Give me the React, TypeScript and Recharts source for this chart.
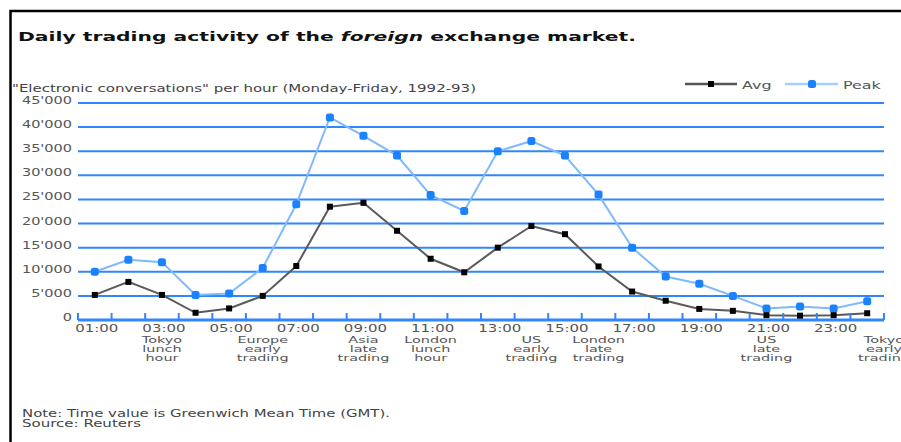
import React from "react"
import { CartesianGrid, Legend, Line, LineChart, XAxis, YAxis } from "recharts"

const hours = [
  "01:00", "02:00", "03:00", "04:00", "05:00", "06:00", "07:00", "08:00",
  "09:00", "10:00", "11:00", "12:00", "13:00", "14:00", "15:00", "16:00",
  "17:00", "18:00", "19:00", "20:00", "21:00", "22:00", "23:00", "24:00",
]

const avg = [
  5200, 7900, 5200, 1500, 2400, 5000, 11200, 23500,
  24300, 18500, 12700, 9900, 15000, 19500, 17800, 11100,
  5900, 4000, 2300, 1900, 1000, 900, 1000, 1400,
]

const peak = [
  10000, 12500, 12000, 5200, 5500, 10800, 24000, 42000,
  38200, 34100, 25900, 22600, 35000, 37100, 34100, 26000,
  15000, 9000, 7500, 5000, 2400, 2800, 2400, 3900,
]

// session notes under the hour labels, one per hour ("" = none)
const sessions = [
  "", "", "Tokyo|lunch|hour", "", "", "Europe|early|trading", "", "",
  "Asia|late|trading", "", "London|lunch|hour", "", "", "US|early|trading", "", "London|late|trading",
  "", "", "", "", "US|late|trading", "", "", "Tokyo|early|trading",
]

const yTicks = [0, 5000, 10000, 15000, 20000, 25000, 30000, 35000, 40000, 45000]

const data = hours.map((h, i) => ({ hour: h, avg: avg[i], peak: peak[i] }))

const W = 901
const H = 442
const PLOT_LEFT = 78
const PLOT_RIGHT = 884
const BAND = (PLOT_RIGHT - PLOT_LEFT) / hours.length
const BLUE = "#2f86ff"
const TXT = "#555"
const FONT = "DejaVu Sans, Verdana, sans-serif"

const fmt = (v: number) => (v === 0 ? "0" : `${Math.floor(v / 1000)}'${String(v % 1000).padStart(3, "0")}`)

function HourTick(props: any) {
  const { x, y, index } = props
  const last = index === hours.length - 1
  const lines = sessions[index] ? sessions[index].split("|") : []
  const shift = last ? BAND / 2 : 0
  return (
    <g>
      <line x1={x - BAND / 2} x2={x - BAND / 2} y1={y - 7} y2={y} stroke={BLUE} strokeWidth={2} />
      {last && <line x1={x + BAND / 2} x2={x + BAND / 2} y1={y - 7} y2={y} stroke={BLUE} strokeWidth={2} />}
      {index % 2 === 0 && (
        <text transform={`translate(${x + 2},${y + 12}) scale(1.5,1)`} textAnchor="middle" fontSize={10} fill={TXT} fontFamily={FONT}>
          {hours[index]}
        </text>
      )}
      {lines.map((l, k) => (
        <text
          key={k}
          transform={`translate(${x + shift},${y + 22.5 + k * 9.2}) scale(1.6,1)`}
          textAnchor="middle"
          fontSize={9}
          fill={TXT}
          fontFamily={FONT}
        >
          {l}
        </text>
      ))}
    </g>
  )
}

function ValueTick(props: any) {
  const { x, y, payload } = props
  return (
    <text transform={`translate(${x},${y + 1}) scale(1.45,1)`} textAnchor="end" fontSize={10} fill={TXT} fontFamily={FONT}>
      {fmt(payload.value)}
    </text>
  )
}

function SquareDot(props: any) {
  const { cx, cy, index } = props
  if (cx == null || cy == null) return <g key={index} />
  return <rect key={index} x={cx - 3} y={cy - 3} width={6} height={6} fill="#000" />
}

function BlueDot(props: any) {
  const { cx, cy, index } = props
  if (cx == null || cy == null) return <g key={index} />
  return <rect key={index} x={cx - 4} y={cy - 4} width={8} height={8} rx={2.5} fill="#1a82ff" />
}

function LegendBox() {
  return (
    <svg width={210} height={25}>
      <line x1={5} x2={57} y1={12} y2={12} stroke="#555" strokeWidth={2.5} />
      <rect x={28} y={9} width={6} height={6} fill="#000" />
      <text transform="translate(62,16.5) scale(1.45,1)" fontSize={11} fill={TXT} fontFamily={FONT}>Avg</text>
      <line x1={105} x2={158} y1={12} y2={12} stroke="#a8d0ff" strokeWidth={2.5} />
      <rect x={128} y={8} width={8} height={8} rx={2.5} fill="#1a82ff" />
      <text transform="translate(163,16.5) scale(1.45,1)" fontSize={11} fill={TXT} fontFamily={FONT}>Peak</text>
    </svg>
  )
}

export default function App() {
  return (
    <div style={{ position: "absolute", left: 0, top: 0, width: W, height: H, background: "#fff", overflow: "hidden" }}>
      <div style={{ position: "absolute", left: 0, top: 0 }}>
        <LineChart width={W} height={H} data={data} margin={{ top: 103, right: W - PLOT_RIGHT, left: 8, bottom: 62 }}>
          <CartesianGrid vertical={false} stroke={BLUE} strokeWidth={2} />
          <XAxis
            dataKey="hour"
            interval={0}
            height={60}
            padding={{ left: BAND / 2, right: BAND / 2 }}
            axisLine={{ stroke: BLUE, strokeWidth: 3 }}
            tickLine={false}
            tickSize={0}
            tickMargin={0}
            tick={<HourTick />}
          />
          <YAxis
            type="number"
            domain={[0, 45000]}
            ticks={yTicks}
            interval={0}
            width={70}
            axisLine={false}
            tickLine={false}
            tickSize={0}
            tickMargin={6}
            tick={<ValueTick />}
          />
          <Legend
            layout="horizontal"
            verticalAlign="middle"
            align="center"
            wrapperStyle={{ position: "absolute", left: 680, top: 72, width: 210, height: 25 }}
            content={() => <LegendBox />}
          />
          <Line dataKey="peak" name="Peak" stroke="#7fb9ff" strokeWidth={2} dot={BlueDot} activeDot={false} isAnimationActive={false} />
          <Line dataKey="avg" name="Avg" stroke="#5a5a5a" strokeWidth={2} dot={SquareDot} activeDot={false} isAnimationActive={false} />
        </LineChart>
      </div>
      <svg width={W} height={H} style={{ position: "absolute", left: 0, top: 0, pointerEvents: "none" }}>
        <path d="M10.5,442 V11 H901" fill="none" stroke="#000" strokeWidth={2.5} />
        <text x={18} y={41} fontSize={12.5} fontWeight="bold" fill="#111" fontFamily={FONT} textLength={618} lengthAdjust="spacingAndGlyphs">
          Daily trading activity of the <tspan fontStyle="italic">foreign</tspan> exchange market.
        </text>
        <text x={12} y={92} fontSize={11} fill="#444" fontFamily={FONT} textLength={464} lengthAdjust="spacingAndGlyphs">
          "Electronic conversations" per hour (Monday-Friday, 1992-93)
        </text>
        <text x={22} y={417} fontSize={10} fill="#444" fontFamily={FONT} textLength={368} lengthAdjust="spacingAndGlyphs">
          Note: Time value is Greenwich Mean Time (GMT).
        </text>
        <text x={22} y={427} fontSize={10} fill="#444" fontFamily={FONT} textLength={119} lengthAdjust="spacingAndGlyphs">
          Source: Reuters
        </text>
      </svg>
    </div>
  )
}
